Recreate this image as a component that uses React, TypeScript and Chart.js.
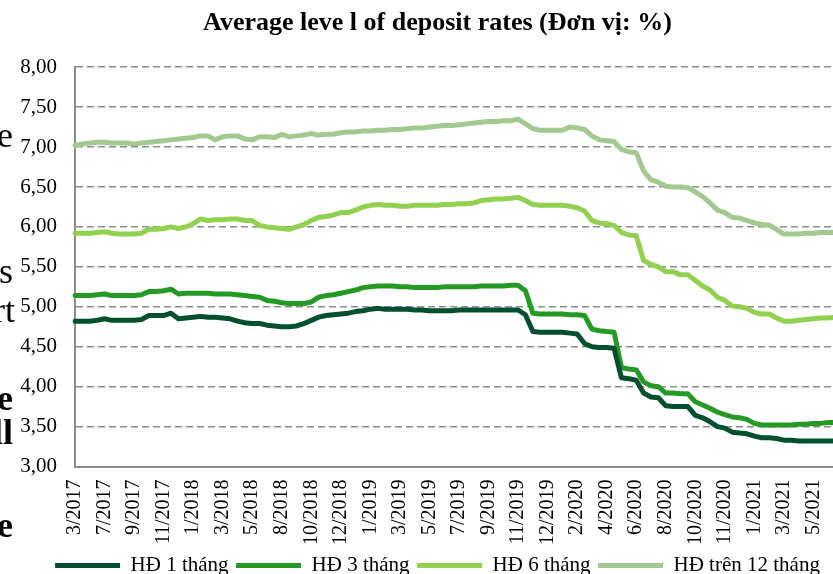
import React, { useEffect, useRef } from "react";
import { Chart, registerables } from "chart.js";

Chart.register(...registerables);

// Tick labels on the x axis (one every 4 data points)
const tickLabels = [
  "3/2017", "7/2017", "9/2017", "11/2017", "1/2018", "3/2018", "5/2018", "8/2018",
  "10/2018", "12/2018", "1/2019", "3/2019", "5/2019", "7/2019", "9/2019", "11/2019",
  "12/2019", "2/2020", "4/2020", "6/2020", "8/2020", "10/2020", "11/2020", "1/2021",
  "3/2021", "5/2021",
];
const pointsPerLabel = 4;
const extraPoints = 4;

const seriesNames = ["HĐ 1 tháng", "HĐ 3 tháng", "HĐ 6 tháng", "HĐ trên 12 tháng"];

const rate1m = [
  4.82, 4.82, 4.82, 4.83, 4.85, 4.83, 4.83, 4.83, 4.83, 4.84, 4.89, 4.89,
  4.89, 4.92, 4.85, 4.86, 4.87, 4.88, 4.87, 4.87, 4.86, 4.85, 4.82, 4.80,
  4.79, 4.79, 4.77, 4.76, 4.75, 4.75, 4.76, 4.79, 4.83, 4.87, 4.89, 4.90,
  4.91, 4.92, 4.94, 4.95, 4.97, 4.98, 4.97, 4.97, 4.97, 4.97, 4.96, 4.96,
  4.95, 4.95, 4.95, 4.95, 4.96, 4.96, 4.96, 4.96, 4.96, 4.96, 4.96, 4.96,
  4.96, 4.90, 4.69, 4.68, 4.68, 4.68, 4.68, 4.67, 4.66, 4.54, 4.50, 4.49,
  4.49, 4.48, 4.11, 4.10, 4.08, 3.92, 3.87, 3.86, 3.76, 3.75, 3.75, 3.75,
  3.64, 3.61, 3.56, 3.50, 3.48, 3.43, 3.42, 3.41, 3.38, 3.36, 3.36, 3.35,
  3.33, 3.33, 3.32, 3.32, 3.32, 3.32, 3.32, 3.32, 3.32,
];
const rate3m = [
  5.14, 5.14, 5.14, 5.15, 5.16, 5.14, 5.14, 5.14, 5.14, 5.15, 5.19, 5.19,
  5.20, 5.22, 5.16, 5.17, 5.17, 5.17, 5.17, 5.16, 5.16, 5.16, 5.15, 5.14,
  5.13, 5.12, 5.08, 5.07, 5.05, 5.04, 5.04, 5.04, 5.06, 5.12, 5.14, 5.15,
  5.17, 5.19, 5.21, 5.24, 5.25, 5.26, 5.26, 5.26, 5.25, 5.25, 5.24, 5.24,
  5.24, 5.24, 5.25, 5.25, 5.25, 5.25, 5.25, 5.26, 5.26, 5.26, 5.26, 5.27,
  5.27, 5.20, 4.92, 4.91, 4.91, 4.91, 4.91, 4.90, 4.90, 4.89, 4.72, 4.70,
  4.69, 4.68, 4.24, 4.22, 4.21, 4.06, 4.01, 4.00, 3.92, 3.92, 3.91, 3.91,
  3.81, 3.77, 3.73, 3.68, 3.65, 3.62, 3.61, 3.59, 3.54, 3.52, 3.52, 3.52,
  3.52, 3.52, 3.53, 3.53, 3.54, 3.54, 3.55, 3.55, 3.56,
];
const rate6m = [
  5.92, 5.92, 5.92, 5.93, 5.94, 5.92, 5.91, 5.91, 5.91, 5.92, 5.97, 5.97,
  5.98, 6.00, 5.98, 6.00, 6.04, 6.10, 6.08, 6.09, 6.09, 6.10, 6.10, 6.08,
  6.08, 6.02, 6.00, 5.99, 5.98, 5.97, 6.00, 6.03, 6.08, 6.12, 6.13, 6.15,
  6.18, 6.18, 6.21, 6.25, 6.27, 6.28, 6.27, 6.27, 6.26, 6.26, 6.27, 6.27,
  6.27, 6.27, 6.28, 6.28, 6.29, 6.29, 6.30, 6.33, 6.34, 6.35, 6.35, 6.36,
  6.37, 6.33, 6.28, 6.27, 6.27, 6.27, 6.27, 6.26, 6.24, 6.20, 6.08, 6.05,
  6.04, 6.02, 5.93, 5.90, 5.89, 5.58, 5.53, 5.50, 5.44, 5.44, 5.40, 5.40,
  5.33, 5.26, 5.21, 5.12, 5.08, 5.01, 5.00, 4.98, 4.93, 4.91, 4.91, 4.86,
  4.82, 4.82, 4.83, 4.84, 4.85, 4.86, 4.86, 4.87, 4.87,
];
const rate12m = [
  7.02, 7.04, 7.05, 7.06, 7.06, 7.05, 7.05, 7.05, 7.04, 7.05, 7.06, 7.07,
  7.08, 7.09, 7.10, 7.11, 7.12, 7.14, 7.14, 7.09, 7.13, 7.14, 7.14, 7.10,
  7.09, 7.13, 7.13, 7.12, 7.16, 7.13, 7.14, 7.15, 7.17, 7.15, 7.16, 7.16,
  7.18, 7.19, 7.19, 7.20, 7.20, 7.21, 7.21, 7.22, 7.22, 7.23, 7.24, 7.24,
  7.25, 7.26, 7.27, 7.27, 7.28, 7.29, 7.30, 7.31, 7.32, 7.32, 7.33, 7.33,
  7.35, 7.29, 7.23, 7.21, 7.21, 7.21, 7.21, 7.25, 7.24, 7.22, 7.14, 7.09,
  7.08, 7.07, 6.97, 6.94, 6.93, 6.70, 6.59, 6.56, 6.51, 6.50, 6.50, 6.49,
  6.44, 6.38, 6.30, 6.21, 6.18, 6.12, 6.11, 6.08, 6.05, 6.03, 6.02, 5.97,
  5.91, 5.91, 5.91, 5.92, 5.92, 5.93, 5.93, 5.93, 5.94,
];

const seriesColors = ["#00502D", "#249A24", "#92D050", "#A2C98F"];
const titleText = "Average leve l of deposit rates (Đơn vị: %)";

const FONT = "'Liberation Serif', 'Times New Roman', serif";

function buildCategories(): string[] {
  const cats: string[] = [];
  tickLabels.forEach((lab, i) => {
    cats.push(lab);
    if (i < tickLabels.length - 1) {
      for (let k = 1; k < pointsPerLabel; k++) cats.push("");
    }
  });
  for (let k = 0; k < extraPoints; k++) cats.push("");
  return cats;
}

// Fragments of surrounding page text visible at the left edge of the picture
const fragments = [
  { text: "e", bold: false, right: 13, baseline: 150 },
  { text: "ts", bold: false, right: 13, baseline: 286 },
  { text: "rt", bold: false, right: 15, baseline: 325 },
  { text: "e", bold: true, right: 13, baseline: 413 },
  { text: "ll", bold: true, right: 13, baseline: 447 },
  { text: "e", bold: true, right: 13, baseline: 540 },
];

export default function App() {
  const ref = useRef<HTMLCanvasElement | null>(null);

  useEffect(() => {
    if (!ref.current) return;
    const categories = buildCategories();
    const values = [rate1m, rate3m, rate6m, rate12m];
    const chart = new Chart(ref.current, {
      type: "line",
      data: {
        labels: categories,
        datasets: seriesNames.map((name, i) => ({
          label: name,
          data: values[i],
          borderColor: seriesColors[i],
          backgroundColor: seriesColors[i],
          borderWidth: 5,
          pointRadius: 0,
          tension: 0,
          borderJoinStyle: "round" as const,
          borderCapStyle: "round" as const,
        })),
      },
      options: {
        animation: false,
        responsive: false,
        devicePixelRatio: 1,
        layout: { padding: { left: 16, right: 21, top: 0, bottom: 0 } },
        font: { family: FONT },
        plugins: {
          title: {
            display: true,
            text: titleText,
            color: "#000",
            font: { family: FONT, size: 26, weight: "bold" },
            padding: { top: 8, bottom: 28 },
          },
          legend: {
            position: "bottom",
            labels: {
              color: "#000",
              font: { family: FONT, size: 21 },
              boxWidth: 65,
              boxHeight: 5,
              padding: 7.5,
              generateLabels: (c: any) =>
                (Chart.defaults.plugins.legend.labels as any)
                  .generateLabels(c)
                  .map((l: any) => ({ ...l, lineWidth: 0, fillStyle: l.strokeStyle })),
            },
          },
          tooltip: { enabled: false },
        },
        scales: {
          x: {
            grid: { display: false, drawTicks: false },
            border: { display: true, color: "#8C8C8C", width: 2 },
            ticks: {
              autoSkip: false,
              minRotation: 90,
              maxRotation: 90,
              padding: 13,
              color: "#000",
              font: { family: FONT, size: 20 },
            },
            afterFit: (scale: any) => {
              scale.height = 81;
            },
          },
          y: {
            min: 3,
            max: 8,
            grid: { color: "#8C8C8C", lineWidth: 1.5, drawTicks: false },
            border: { display: true, color: "#8C8C8C", width: 2, dash: [7, 4] },
            ticks: {
              stepSize: 0.5,
              padding: 18,
              color: "#000",
              font: { family: FONT, size: 21 },
              callback: (v: any) => Number(v).toFixed(2).replace(".", ","),
            },
            afterFit: (scale: any) => {
              scale.width = 59;
            },
          },
        },
      },
    });
    return () => chart.destroy();
  }, []);

  return (
    <div
      style={{
        position: "fixed",
        left: 0,
        top: 0,
        width: 833,
        height: 574,
        overflow: "hidden",
        background: "#fff",
      }}
    >
      <canvas ref={ref} width={880} height={586} style={{ display: "block" }} />
      {fragments.map((f, i) => (
        <div
          key={i}
          style={{
            position: "absolute",
            right: 833 - f.right,
            top: f.baseline - 33,
            fontFamily: FONT,
            fontSize: 36,
            lineHeight: "36px",
            fontWeight: f.bold ? "bold" : "normal",
            whiteSpace: "nowrap",
            color: "#000",
          }}
        >
          {f.text}
        </div>
      ))}
    </div>
  );
}
